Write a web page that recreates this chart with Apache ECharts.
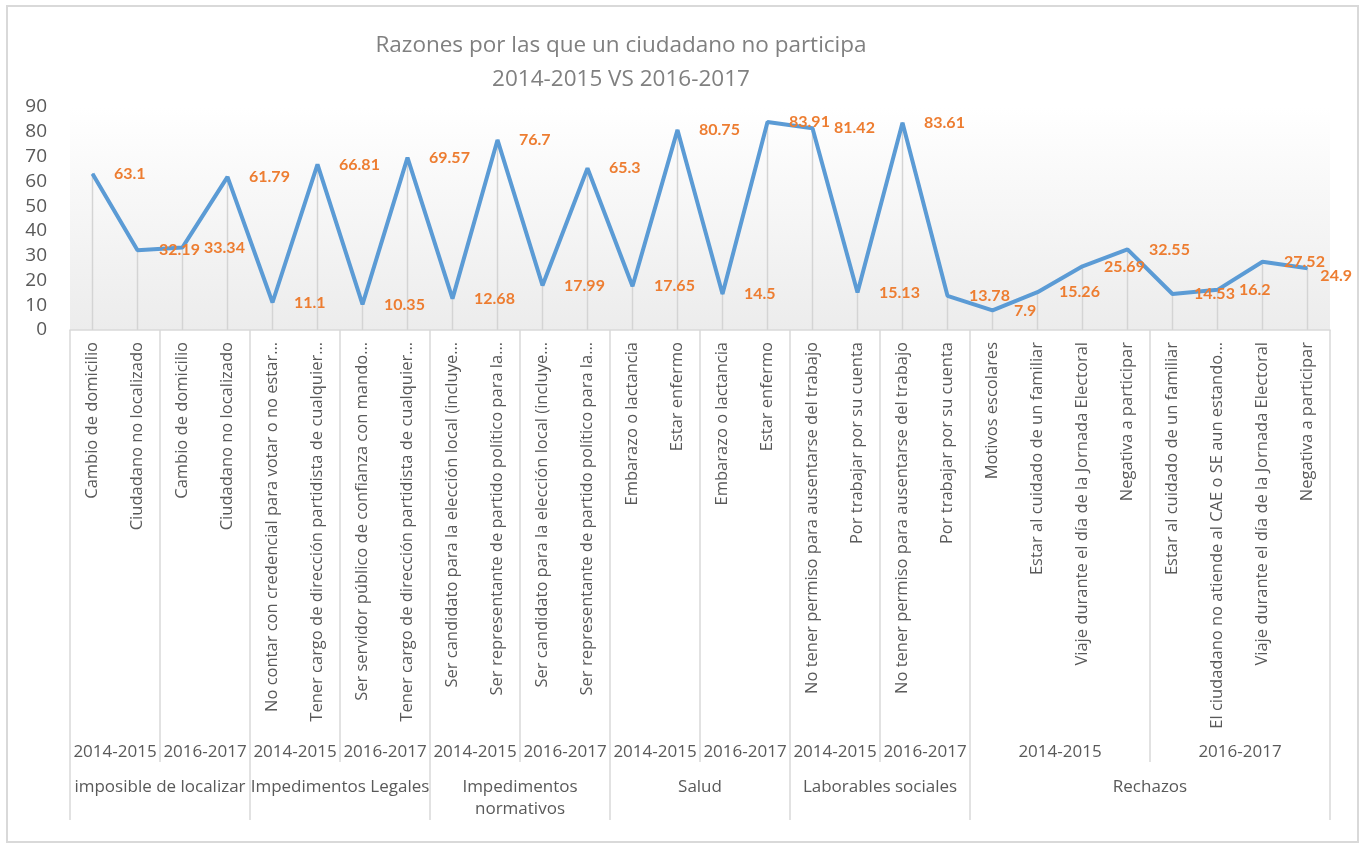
<!DOCTYPE html>
<html>
<head>
<meta charset="utf-8">
<script src="https://cdn.jsdelivr.net/npm/echarts@6/dist/echarts.min.js"></script>
<style>
  html, body { margin: 0; padding: 0; background: #fff; }
  #chart { width: 1363px; height: 850px; }
  #frame { position: absolute; left: 6px; top: 5px; width: 1349px; height: 834px;
           border: 2px solid #d9d9d9; pointer-events: none; }
</style>
</head>
<body>
<div id="chart"></div>
<div id="frame"></div>
<script>
// categorias (nivel 1), tal como aparecen en el eje
const categories = [
  'Cambio de domicilio', 'Ciudadano no localizado', 'Cambio de domicilio', 'Ciudadano no localizado',
  'No contar con credencial para votar o no estar…', 'Tener cargo de dirección partidista de cualquier…',
  'Ser servidor público de confianza con mando…', 'Tener cargo de dirección partidista de cualquier…',
  'Ser candidato para la elección local (incluye…', 'Ser representante de partido político para la…',
  'Ser candidato para la elección local (incluye…', 'Ser representante de partido político para la…',
  'Embarazo o lactancia', 'Estar enfermo', 'Embarazo o lactancia', 'Estar enfermo',
  'No tener permiso para ausentarse del trabajo', 'Por trabajar por su cuenta',
  'No tener permiso para ausentarse del trabajo', 'Por trabajar por su cuenta',
  'Motivos escolares', 'Estar al cuidado de un familiar', 'Viaje durante el día de la Jornada Electoral',
  'Negativa a participar', 'Estar al cuidado de un familiar', 'El ciudadano no atiende al CAE o SE aun estando…',
  'Viaje durante el día de la Jornada Electoral', 'Negativa a participar'
];
const values = [63.1, 32.19, 33.34, 61.79, 11.1, 66.81, 10.35, 69.57, 12.68, 76.7, 17.99, 65.3, 17.65, 80.75,
  14.5, 83.91, 81.42, 15.13, 83.61, 13.78, 7.9, 15.26, 25.69, 32.55, 14.53, 16.2, 27.52, 24.9];

// nivel 2 (periodo) y nivel 3 (motivo): etiqueta y cuantas categorias abarca
const periodLabels = ['2014-2015', '2016-2017', '2014-2015', '2016-2017', '2014-2015', '2016-2017',
  '2014-2015', '2016-2017', '2014-2015', '2016-2017', '2014-2015', '2016-2017'];
const periodSizes = [2, 2, 2, 2, 2, 2, 2, 2, 2, 2, 4, 4];
const groupLabels = ['imposible de localizar', 'Impedimentos Legales', 'Impedimentos\nnormativos',
  'Salud', 'Laborables sociales', 'Rechazos'];
const groupSizes = [4, 4, 4, 4, 4, 8];

const yTicks = [0, 10, 20, 30, 40, 50, 60, 70, 80, 90];

// limites y centros de cada grupo, en unidades de categoria
function spans(sizes) {
  const bounds = [0], centers = [];
  let acc = 0;
  sizes.forEach(s => { centers.push(acc + s / 2); acc += s; bounds.push(acc); });
  return { bounds, centers };
}
const period = spans(periodSizes);
const group = spans(groupSizes);

const gray = '#595959';
const sep = { color: '#d9d9d9', width: 1.5 };

function levelAxis(sp, labels, tickLen, margin, fontSize) {
  return {
    type: 'value', position: 'bottom', gridIndex: 0,
    min: 0, max: categories.length,
    axisLine: { show: false },
    splitLine: { show: false },
    axisTick: { show: true, inside: false, length: tickLen, customValues: sp.bounds, lineStyle: sep },
    axisLabel: {
      customValues: sp.centers, margin: margin, color: gray, fontSize: fontSize,
      fontFamily: 'Open Sans', lineHeight: 22, verticalAlign: 'top',
      formatter: v => { const i = sp.centers.indexOf(v); return i >= 0 ? labels[i] : ''; }
    }
  };
}

const chart = echarts.init(document.getElementById('chart'));
chart.setOption({
  animation: false,
  title: {
    text: 'Razones por las que un ciudadano no participa\n2014-2015 VS 2016-2017',
    left: 616, top: 24, textAlign: 'center',
    textStyle: { color: '#808080', fontSize: 22.5, fontWeight: 'normal', fontFamily: 'Open Sans', lineHeight: 34 }
  },
  grid: {
    left: 70, right: 33, top: 107, bottom: 520,
    show: true, borderWidth: 0,
    backgroundColor: new echarts.graphic.LinearGradient(0, 0, 0, 1, [
      { offset: 0, color: '#ffffff' }, { offset: 1, color: '#ececec' }
    ])
  },
  xAxis: [
    {
      type: 'category', data: categories, position: 'bottom', boundaryGap: true,
      axisLine: { lineStyle: { color: '#d9d9d9', width: 1.5 } },
      axisTick: { show: false },
      axisLabel: { interval: 0, rotate: 90, margin: 12, color: gray, fontSize: 16.5, fontFamily: 'Open Sans' }
    },
    levelAxis(period, periodLabels, 432, 411, 17),
    levelAxis(group, groupLabels, 490, 446, 17)
  ],
  yAxis: {
    type: 'value', min: 0, max: 90, interval: 10,
    axisLine: { show: false }, axisTick: { show: false }, splitLine: { show: false },
    axisLabel: { color: gray, fontSize: 19, fontFamily: 'Open Sans', margin: 23,
      formatter: v => yTicks.includes(v) ? String(v) : '' }
  },
  series: [
    {
      // lineas de caida desde el eje hasta cada punto
      type: 'bar', data: values, xAxisIndex: 0, barWidth: 1.5, silent: true,
      itemStyle: { color: '#d4d4d4' }, z: 1
    },
    {
      type: 'line', data: values, xAxisIndex: 0, z: 3,
      symbol: 'circle', symbolSize: 1, showSymbol: true,
      lineStyle: { color: '#5b9bd5', width: 4 },
      itemStyle: { color: '#5b9bd5' },
      label: { show: true, position: 'right', distance: 21, color: '#ed7d31',
        fontWeight: 'bold', fontSize: 16, fontFamily: 'Lato' },
      // que la ultima etiqueta no se salga del marco
      labelLayout: p => (p.labelRect.x + p.labelRect.width > 1352 ? { x: 1352, align: 'right' } : {})
    }
  ]
});
</script>
</body>
</html>
